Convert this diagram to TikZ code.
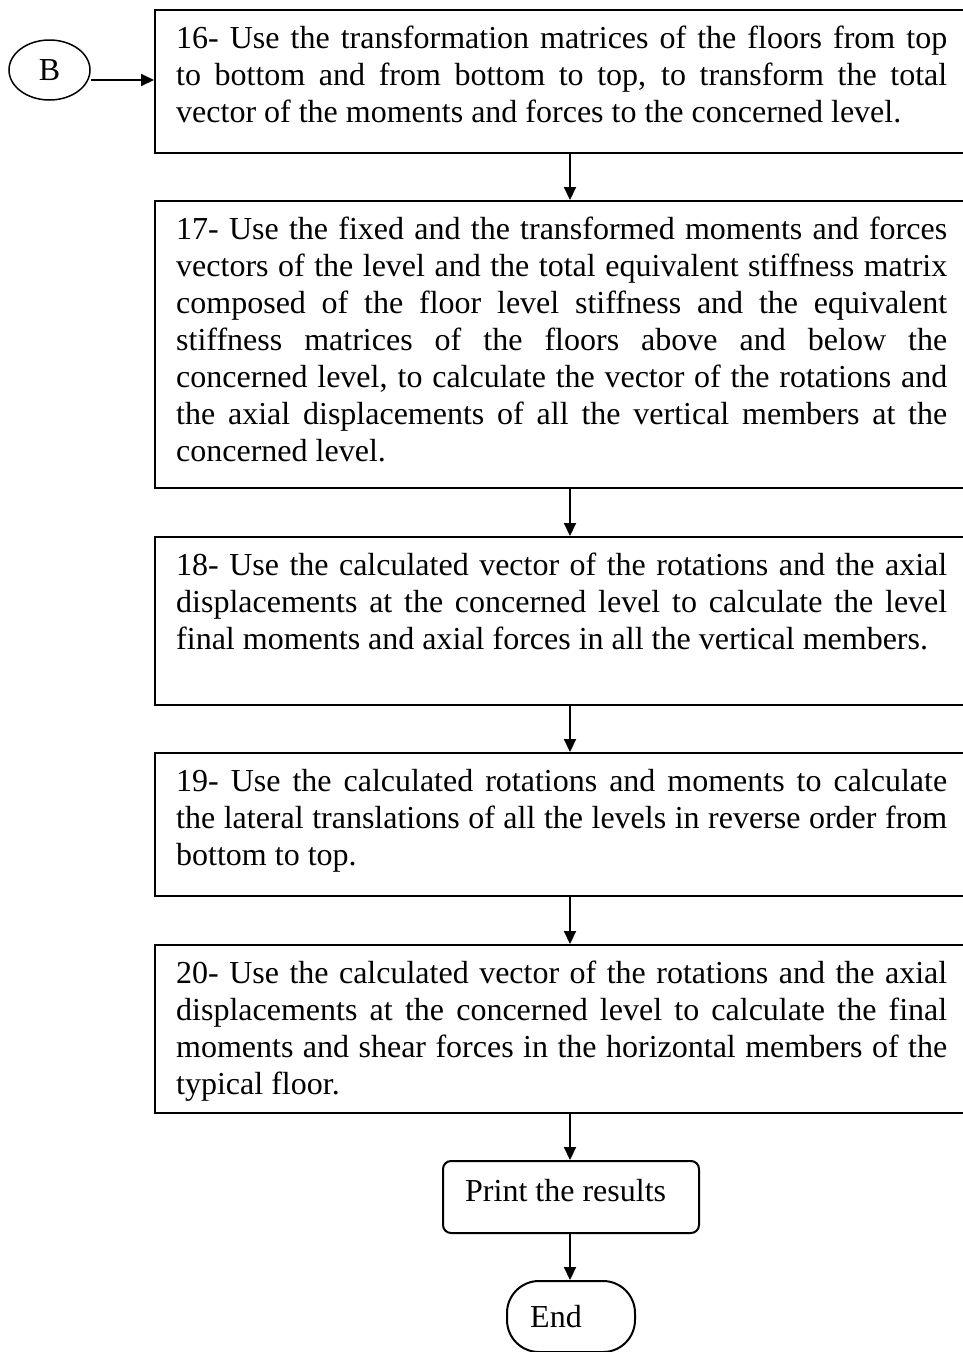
\documentclass[tikz,border=0pt]{standalone}
\usepackage{fontspec}
\setmainfont{Liberation Serif}
\usetikzlibrary{arrows.meta,shapes.geometric}
\tikzset{
  stepbox/.style={draw, line width=2pt, inner sep=0pt, anchor=north west},
  txt/.style={anchor=base west, inner sep=0pt, align=left, font=\fontsize{32}{37}\selectfont},
  mtxt/.style={anchor=north west, inner sep=0pt, align=left, font=\fontsize{32}{37}\selectfont},
  arr/.style={line width=2pt, -{Triangle[length=13pt,width=12pt]}},
}
\newcommand{\jl}[1]{\makebox[771pt][s]{#1}}
\begin{document}
\begin{tikzpicture}[x=1pt,y=-1pt]
\useasboundingbox (0,0) rectangle (963,1352);
\coordinate (ax) at (570,0);
\coordinate (bl) at (0,80);

% start connector
\node[draw, ellipse, line width=1.5pt, minimum width=81pt, minimum height=60pt, inner sep=0pt,
      font=\fontsize{32}{37}\selectfont] (B) at (49.5,70) {B};

% boxes
\node[stepbox, minimum width=812pt, minimum height=143pt] (b16) at (154,9) {};
\node[stepbox, minimum width=812pt, minimum height=287pt] (b17) at (154,200) {};
\node[stepbox, minimum width=812pt, minimum height=168pt] (b18) at (154,536) {};
\node[stepbox, minimum width=812pt, minimum height=143pt] (b19) at (154,752) {};
\node[stepbox, minimum width=812pt, minimum height=168pt] (b20) at (154,944) {};
\node[stepbox, rounded corners=8pt, minimum width=256pt, minimum height=72pt] (pr) at (442,1160) {};
\node[stepbox, rounded corners=32pt, minimum width=128pt, minimum height=71pt] (end) at (506,1280) {};

% texts (first baseline = top + 39)
\node[mtxt] (t16) at (176,26) {%
\jl{16- Use the transformation matrices of the floors from top}\\
\jl{to bottom and from bottom to top, to transform the total}\\
vector of the moments and forces to the concerned level.};

\node[mtxt] (t17) at (176,217) {%
\jl{17- Use the fixed and the transformed moments and forces}\\
\jl{vectors of the level and the total equivalent stiffness matrix}\\
\jl{composed of the floor level stiffness and the equivalent}\\
\jl{stiffness matrices of the floors above and below the}\\
\jl{concerned level, to calculate the vector of the rotations and}\\
\jl{the axial displacements of all the vertical members at the}\\
concerned level.};

\node[mtxt] (t18) at (176,553) {%
\jl{18- Use the calculated vector of the rotations and the axial}\\
\jl{displacements at the concerned level to calculate the level}\\
final moments and axial forces in all the vertical members.};

\node[mtxt] (t19) at (176,769) {%
\jl{19- Use the calculated rotations and moments to calculate}\\
\jl{the lateral translations of all the levels in reverse order from}\\
bottom to top.};

\node[mtxt] (t20) at (176,961) {%
\jl{20- Use the calculated vector of the rotations and the axial}\\
\jl{displacements at the concerned level to calculate the final}\\
\jl{moments and shear forces in the horizontal members of the}\\
typical floor.};

\node[txt] (tpr) at (465,1201) {Print the results};
\node[txt] (tend) at (530,1327) {End};

% connectors
\draw[arr] (B.east |- bl) -- (b16.west |- bl);
\draw[arr] (b16.south -| ax) -- (b17.north -| ax);
\draw[arr] (b17.south -| ax) -- (b18.north -| ax);
\draw[arr] (b18.south -| ax) -- (b19.north -| ax);
\draw[arr] (b19.south -| ax) -- (b20.north -| ax);
\draw[arr] (b20.south -| ax) -- (pr.north -| ax);
\draw[arr] (pr.south -| ax) -- (end.north -| ax);
\end{tikzpicture}
\end{document}
